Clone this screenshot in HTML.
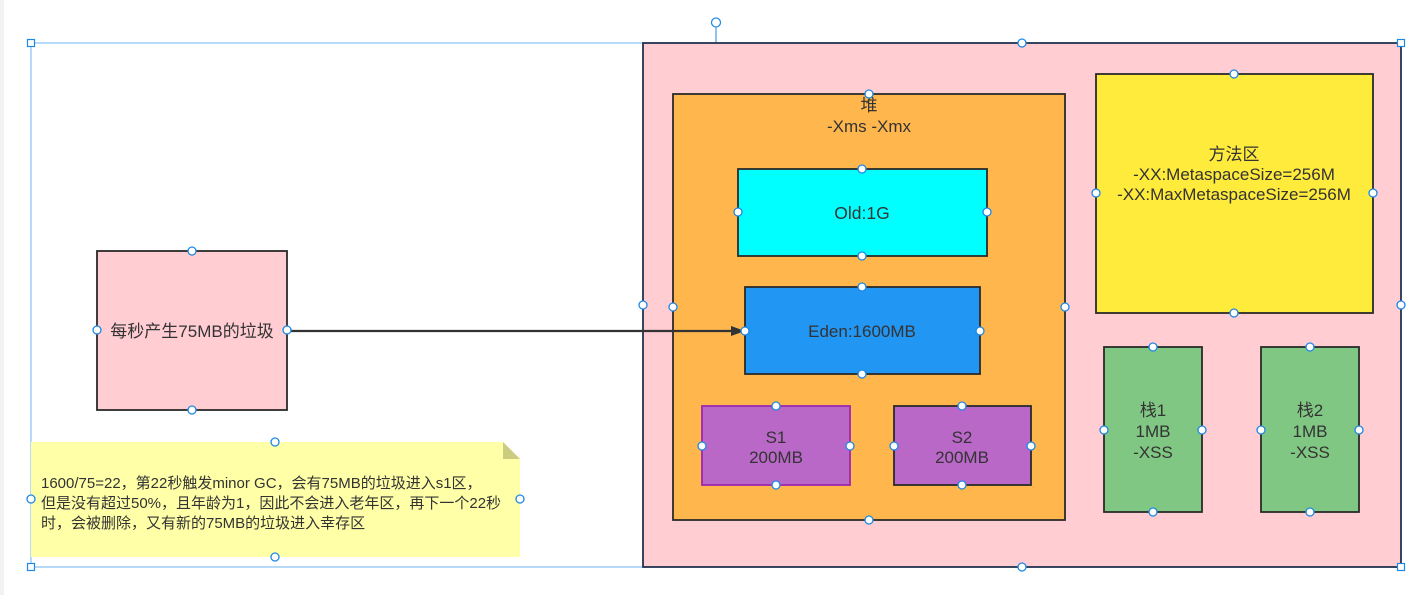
<!DOCTYPE html>
<html><head><meta charset="utf-8"><style>
html,body{margin:0;padding:0;background:#fff;}
svg{display:block;}
text{font-family:"Liberation Sans","Noto Sans CJK SC",sans-serif;fill:#333;}
</style></head><body>
<svg width="1422" height="595" viewBox="0 0 1422 595" xmlns="http://www.w3.org/2000/svg">
<rect x="0" y="0" width="4" height="595" fill="#f2f2f2"/>
<rect x="31" y="43" width="1370" height="524" fill="none" stroke="#6fb3f5" stroke-width="1"/>
<line x1="716" y1="27" x2="716" y2="43" stroke="#1e88e5" stroke-width="1"/>
<circle cx="716" cy="22.5" r="4.5" fill="#fff" stroke="#1e88e5" stroke-width="1.2"/>
<rect x="643" y="43" width="758" height="524" fill="#ffcdd2" stroke="#223350" stroke-width="1.8"/>
<rect x="673" y="94" width="392" height="426" fill="#ffb74d" stroke="#2a2a2a" stroke-width="1.8"/>
<text x="869" y="111" font-size="17" text-anchor="middle">堆</text>
<text x="869" y="132" font-size="17" text-anchor="middle">-Xms -Xmx</text>
<rect x="738" y="169" width="249" height="87" fill="#00ffff" stroke="#2a2a2a" stroke-width="1.8"/>
<text x="862" y="219" font-size="17.5" text-anchor="middle">Old:1G</text>
<rect x="745" y="287" width="235" height="87" fill="#2196f3" stroke="#2a2a2a" stroke-width="1.8"/>
<text x="862" y="337" font-size="17" text-anchor="middle">Eden:1600MB</text>
<rect x="702" y="406" width="148" height="79" fill="#ba68c8" stroke="#9c27b0" stroke-width="1.8"/>
<text x="776" y="443" font-size="17" text-anchor="middle">S1</text>
<text x="776" y="463" font-size="17" text-anchor="middle">200MB</text>
<rect x="894" y="406" width="137" height="79" fill="#ba68c8" stroke="#2a2a2a" stroke-width="1.8"/>
<text x="962" y="443" font-size="17" text-anchor="middle">S2</text>
<text x="962" y="463" font-size="17" text-anchor="middle">200MB</text>
<rect x="1096" y="74" width="277" height="239" fill="#ffeb3b" stroke="#2a2a2a" stroke-width="1.8"/>
<text x="1234" y="160" font-size="17" text-anchor="middle">方法区</text>
<text x="1234" y="180" font-size="17" text-anchor="middle">-XX:MetaspaceSize=256M</text>
<text x="1234" y="200" font-size="17" text-anchor="middle">-XX:MaxMetaspaceSize=256M</text>
<rect x="1104" y="347" width="98" height="165" fill="#81c784" stroke="#2a2a2a" stroke-width="1.8"/>
<text x="1153" y="416" font-size="17" text-anchor="middle">栈1</text>
<text x="1153" y="437" font-size="17" text-anchor="middle">1MB</text>
<text x="1153" y="458" font-size="17" text-anchor="middle">-XSS</text>
<rect x="1261" y="347" width="98" height="165" fill="#81c784" stroke="#2a2a2a" stroke-width="1.8"/>
<text x="1310" y="416" font-size="17" text-anchor="middle">栈2</text>
<text x="1310" y="437" font-size="17" text-anchor="middle">1MB</text>
<text x="1310" y="458" font-size="17" text-anchor="middle">-XSS</text>
<rect x="97" y="251" width="190" height="159" fill="#ffcdd2" stroke="#2a2a2a" stroke-width="1.8"/>
<text x="192" y="337" font-size="17" text-anchor="middle">每秒产生75MB的垃圾</text>
<line x1="287" y1="331" x2="734" y2="331" stroke="#333" stroke-width="2.2"/>
<polygon points="745,331 731,326 731,336" fill="#333"/>
<polygon points="31,442 503,442 520,459 520,557 31,557" fill="#ffffa8"/>
<polygon points="503,442 520,459 503,459" fill="#cccc80"/>
<text x="41" y="488" font-size="15">1600/75=22，第22秒触发minor GC，会有75MB的垃圾进入s1区，</text>
<text x="41" y="508" font-size="15">但是没有超过50%，且年龄为1，因此不会进入老年区，再下一个22秒</text>
<text x="41" y="528" font-size="15">时，会被删除，又有新的75MB的垃圾进入幸存区</text>
<g fill="#fff" stroke="#1e88e5" stroke-width="1.2">
<rect x="27.5" y="39.5" width="7" height="7"/>
<rect x="27.5" y="563.5" width="7" height="7"/>
<rect x="1397.5" y="39.5" width="7" height="7"/>
<rect x="1397.5" y="563.5" width="7" height="7"/>
</g>
<g fill="#fff" stroke="#1e88e5" stroke-width="1.3">
<ellipse cx="1022" cy="43" rx="4" ry="4"/><ellipse cx="1022" cy="567" rx="4" ry="4"/>
<ellipse cx="643" cy="305" rx="4" ry="4"/><ellipse cx="1401" cy="305" rx="4" ry="4"/>
<ellipse cx="869" cy="94" rx="4" ry="4"/><ellipse cx="869" cy="520" rx="4" ry="4"/>
<ellipse cx="673" cy="307" rx="4" ry="4"/><ellipse cx="1065" cy="307" rx="4" ry="4"/>
<ellipse cx="862" cy="169" rx="4" ry="4"/><ellipse cx="862" cy="256" rx="4" ry="4"/>
<ellipse cx="738" cy="212" rx="4" ry="4"/><ellipse cx="987" cy="212" rx="4" ry="4"/>
<ellipse cx="862" cy="287" rx="4" ry="4"/><ellipse cx="862" cy="374" rx="4" ry="4"/>
<ellipse cx="745" cy="331" rx="4" ry="4"/><ellipse cx="980" cy="331" rx="4" ry="4"/>
<ellipse cx="776" cy="406" rx="4" ry="4"/><ellipse cx="776" cy="485" rx="4" ry="4"/>
<ellipse cx="702" cy="446" rx="4" ry="4"/><ellipse cx="850" cy="446" rx="4" ry="4"/>
<ellipse cx="962" cy="406" rx="4" ry="4"/><ellipse cx="962" cy="485" rx="4" ry="4"/>
<ellipse cx="894" cy="446" rx="4" ry="4"/><ellipse cx="1031" cy="446" rx="4" ry="4"/>
<ellipse cx="1234" cy="74" rx="4" ry="4"/><ellipse cx="1234" cy="313" rx="4" ry="4"/>
<ellipse cx="1096" cy="193" rx="4" ry="4"/><ellipse cx="1373" cy="193" rx="4" ry="4"/>
<ellipse cx="1153" cy="347" rx="4" ry="4"/><ellipse cx="1153" cy="512" rx="4" ry="4"/>
<ellipse cx="1104" cy="430" rx="4" ry="4"/><ellipse cx="1202" cy="430" rx="4" ry="4"/>
<ellipse cx="1310" cy="347" rx="4" ry="4"/><ellipse cx="1310" cy="512" rx="4" ry="4"/>
<ellipse cx="1261" cy="430" rx="4" ry="4"/><ellipse cx="1359" cy="430" rx="4" ry="4"/>
<ellipse cx="192" cy="251" rx="4" ry="4"/><ellipse cx="192" cy="410" rx="4" ry="4"/>
<ellipse cx="97" cy="330" rx="4" ry="4"/><ellipse cx="287" cy="330" rx="4" ry="4"/>
<ellipse cx="275" cy="442" rx="4" ry="4"/><ellipse cx="275" cy="557" rx="4" ry="4"/>
<ellipse cx="31" cy="499" rx="4" ry="4"/><ellipse cx="520" cy="499" rx="4" ry="4"/>
</g>
</svg>
</body></html>
